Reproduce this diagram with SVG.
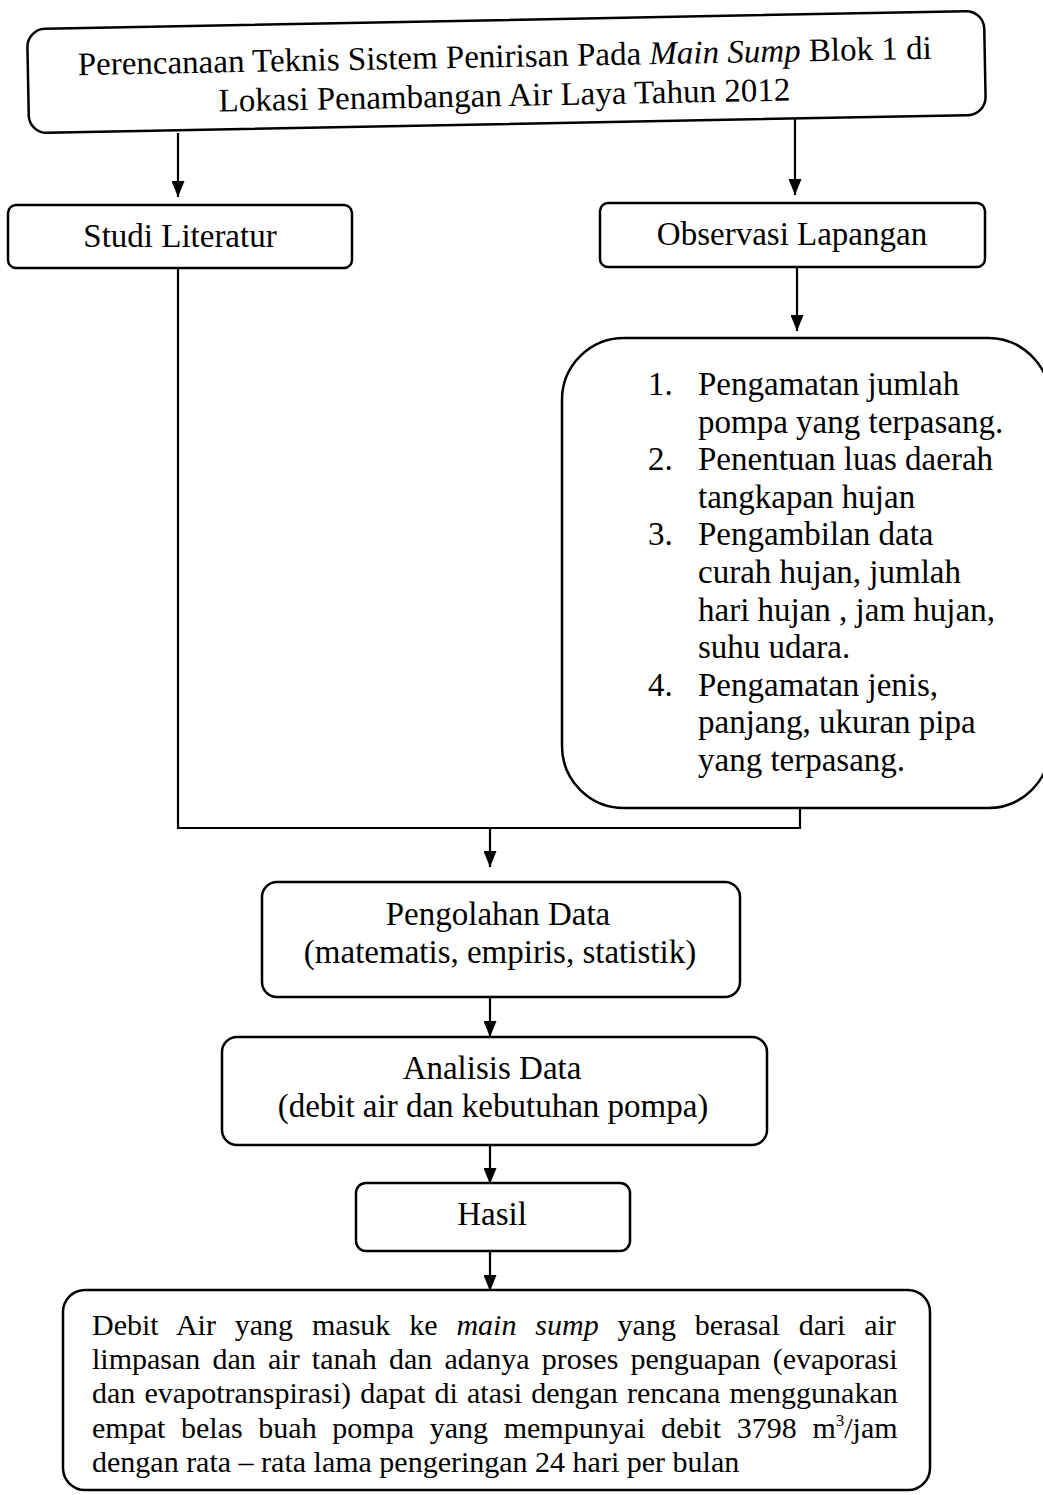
<svg xmlns="http://www.w3.org/2000/svg" width="1043" height="1495" viewBox="0 0 1043 1495">
<style>
.box{fill:#fff;stroke:#000;stroke-width:2.5}
.t{font-family:"Liberation Serif","Times New Roman",serif;fill:#000}
.c{font-size:33px;text-anchor:middle}
.l{font-size:33px}
.b{font-size:30px}
.con{fill:none;stroke:#000;stroke-width:2.2}
</style>
<defs>
<marker id="ah" markerUnits="userSpaceOnUse" markerWidth="16" markerHeight="13" viewBox="0 0 16 13" refX="16" refY="6.5" orient="auto">
<path d="M0,0 L16,6.5 L0,13 z" fill="#000"/>
</marker>
</defs>
<rect width="1043" height="1495" fill="#fff"/>
<g id="connectors">
<line class="con" x1="178" y1="133" x2="178" y2="197" marker-end="url(#ah)"/>
<line class="con" x1="795" y1="115" x2="795" y2="195" marker-end="url(#ah)"/>
<line class="con" x1="797" y1="267" x2="797" y2="331" marker-end="url(#ah)"/>
<polyline class="con" points="178,268 178,828 800,828 800,808"/>
<line class="con" x1="490" y1="828" x2="490" y2="867" marker-end="url(#ah)"/>
<line class="con" x1="490" y1="997" x2="490" y2="1037" marker-end="url(#ah)"/>
<line class="con" x1="490" y1="1145" x2="490" y2="1184" marker-end="url(#ah)"/>
<line class="con" x1="490" y1="1251" x2="490" y2="1291" marker-end="url(#ah)"/>
</g>
<g id="node-judul" transform="rotate(-1.1 506 72)">
<rect class="box" x="28" y="20" width="957" height="104" rx="18"/>
<text class="t c" x="505" y="67" font-size="32.5">Perencanaan Teknis Sistem Penirisan Pada <tspan font-style="italic">Main Sump</tspan> Blok 1 di</text>
<text class="t c" x="504" y="106" font-size="32.5">Lokasi Penambangan Air Laya Tahun 2012</text>
</g>
<g id="node-studi">
<rect class="box" x="8" y="205" width="344" height="63" rx="8"/>
<text class="t c" x="180" y="247" font-size="30.5">Studi Literatur</text>
</g>
<g id="node-observasi">
<rect class="box" x="600" y="203" width="385" height="64" rx="8"/>
<text class="t c" x="792" y="245" font-size="30.5">Observasi Lapangan</text>
</g>
<g id="node-daftar">
<rect class="box" x="562" y="338" width="488" height="470" rx="62"/>
<g class="t l">
<text x="648" y="395">1.</text><text x="698" y="395">Pengamatan jumlah</text>
<text x="698" y="433">pompa yang terpasang.</text>
<text x="648" y="470">2.</text><text x="698" y="470">Penentuan luas daerah</text>
<text x="698" y="508">tangkapan hujan</text>
<text x="648" y="545">3.</text><text x="698" y="545">Pengambilan data</text>
<text x="698" y="583">curah hujan, jumlah</text>
<text x="698" y="621">hari hujan , jam hujan,</text>
<text x="698" y="658">suhu udara.</text>
<text x="648" y="696">4.</text><text x="698" y="696">Pengamatan jenis,</text>
<text x="698" y="733">panjang, ukuran pipa</text>
<text x="698" y="771">yang terpasang.</text>
</g>
</g>
<g id="node-pengolahan">
<rect class="box" x="262" y="882" width="478" height="115" rx="15"/>
<text class="t c" x="498" y="925">Pengolahan Data</text>
<text class="t c" x="500" y="963">(matematis, empiris, statistik)</text>
</g>
<g id="node-analisis">
<rect class="box" x="222" y="1037" width="545" height="108" rx="15"/>
<text class="t c" x="492" y="1079">Analisis Data</text>
<text class="t c" x="493" y="1117">(debit air dan kebutuhan pompa)</text>
</g>
<g id="node-hasil">
<rect class="box" x="356" y="1183" width="274" height="68" rx="10"/>
<text class="t c" x="492" y="1225">Hasil</text>
</g>
<g id="node-kesimpulan">
<rect class="box" x="63" y="1290" width="867" height="200" rx="22"/>
<g class="t b">
<text x="92" y="1335" word-spacing="11.4">Debit Air yang masuk ke <tspan font-style="italic">main sump</tspan> yang berasal dari air</text>
<text x="92" y="1369" word-spacing="4.7">limpasan dan air tanah dan adanya proses penguapan (evaporasi</text>
<text x="92" y="1403" word-spacing="1.7">dan evapotranspirasi) dapat di atasi dengan rencana menggunakan</text>
<text x="92" y="1438" word-spacing="8.2">empat belas buah pompa yang mempunyai debit 3798 m<tspan font-size="17" dy="-12">3</tspan><tspan dy="12">/jam</tspan></text>
<text x="92" y="1472">dengan rata – rata lama pengeringan 24 hari per bulan</text>
</g>
</g>
</svg>
